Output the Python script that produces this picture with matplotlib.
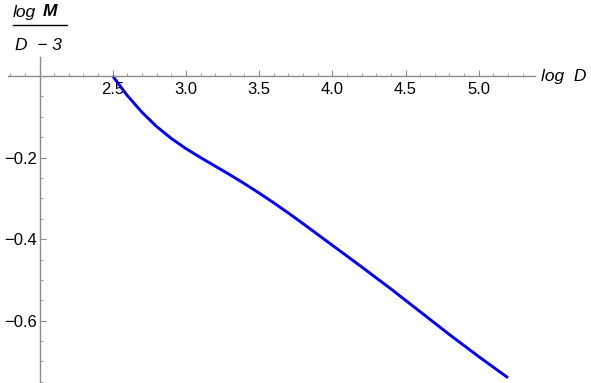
import numpy as np
import matplotlib
matplotlib.use("Agg")
import matplotlib.pyplot as plt
from matplotlib.lines import Line2D

plt.rcParams["font.family"] = ["Liberation Sans", "DejaVu Sans"]
plt.rcParams["axes.unicode_minus"] = True

# data
log_D = [2.5, 2.6, 2.7, 2.8, 2.9, 3.0, 3.1, 3.2, 3.3, 3.4, 3.5, 3.6, 3.7, 3.8,
         4.0, 4.2, 4.4, 4.6, 4.8, 5.0, 5.2]
log_M_ratio = [0.0, -0.048, -0.089, -0.124, -0.153, -0.178, -0.200, -0.221, -0.242,
               -0.264, -0.287, -0.311, -0.336, -0.362,
               -0.415, -0.468, -0.522, -0.578, -0.634, -0.688, -0.740]
x_major = [2.5, 3.0, 3.5, 4.0, 4.5, 5.0]
y_major = [-0.2, -0.4, -0.6]

W, H = 591, 383
fig = plt.figure(figsize=(W / 100, H / 100), dpi=100)
ax = fig.add_axes([0, 0, 1, 1])

ax.plot(log_D, log_M_ratio, color="#0000ff", lw=2.1, solid_capstyle="butt",
        solid_joinstyle="round")

ax.set_xlim(1.730, 5.767)
ax.set_ylim(-0.7528, 0.1864)

gray = "#8c8c8c"
for s in ["top", "right"]:
    ax.spines[s].set_visible(False)
ax.spines["left"].set_position(("data", 2.0))
ax.spines["bottom"].set_position(("data", 0.0))
ax.spines["left"].set_bounds(-0.753, 0.047)
ax.spines["bottom"].set_bounds(1.785, 5.385)
for s in ["left", "bottom"]:
    ax.spines[s].set_color(gray)
    ax.spines[s].set_linewidth(1.0)

ax.set_xticks(x_major)
ax.set_xticklabels([f"{v:.1f}" for v in x_major])
ax.set_xticks([v for v in np.round(np.arange(1.8, 5.31, 0.1), 2) if v not in x_major and v != 2.0], minor=True)
ax.set_yticks(y_major)
ax.set_yticklabels([f"\u2212{abs(v):.1f}" for v in y_major])
ax.set_yticks([v for v in np.round(np.arange(-0.05, -0.751, -0.05), 2) if v not in y_major], minor=True)

ax.tick_params(which="both", direction="in", color=gray, labelsize=12, labelcolor="black")
ax.tick_params(axis="x", which="major", length=4.5, width=0.8, pad=4)
ax.tick_params(axis="x", which="minor", length=2.5, width=0.6)
ax.tick_params(axis="y", which="major", length=4.5, width=0.8, pad=2)
ax.tick_params(axis="y", which="minor", length=2.5, width=0.6)
ax.patch.set_visible(False)

# x axis label
fig.text(541 / W, 1 - 76 / H, "log  D", fontsize=12.5, style="italic", va="center", ha="left")

# y axis label as a fraction
fig.text(13 / W, 1 - 12 / H, "log", fontsize=12.5, style="italic", va="center", ha="left")
fig.text(43 / W, 1 - 12 / H, "M", fontsize=12.5, style="italic", weight="bold", va="center", ha="left")
fig.add_artist(Line2D([13 / W, 67 / W], [1 - 24.5 / H, 1 - 24.5 / H], color="black", lw=1.0,
                      transform=fig.transFigure))
fig.text(15 / W, 1 - 46 / H, "D  \u2212 3", fontsize=12.5, style="italic", va="center", ha="left")

fig.savefig("out.png", dpi=100)
